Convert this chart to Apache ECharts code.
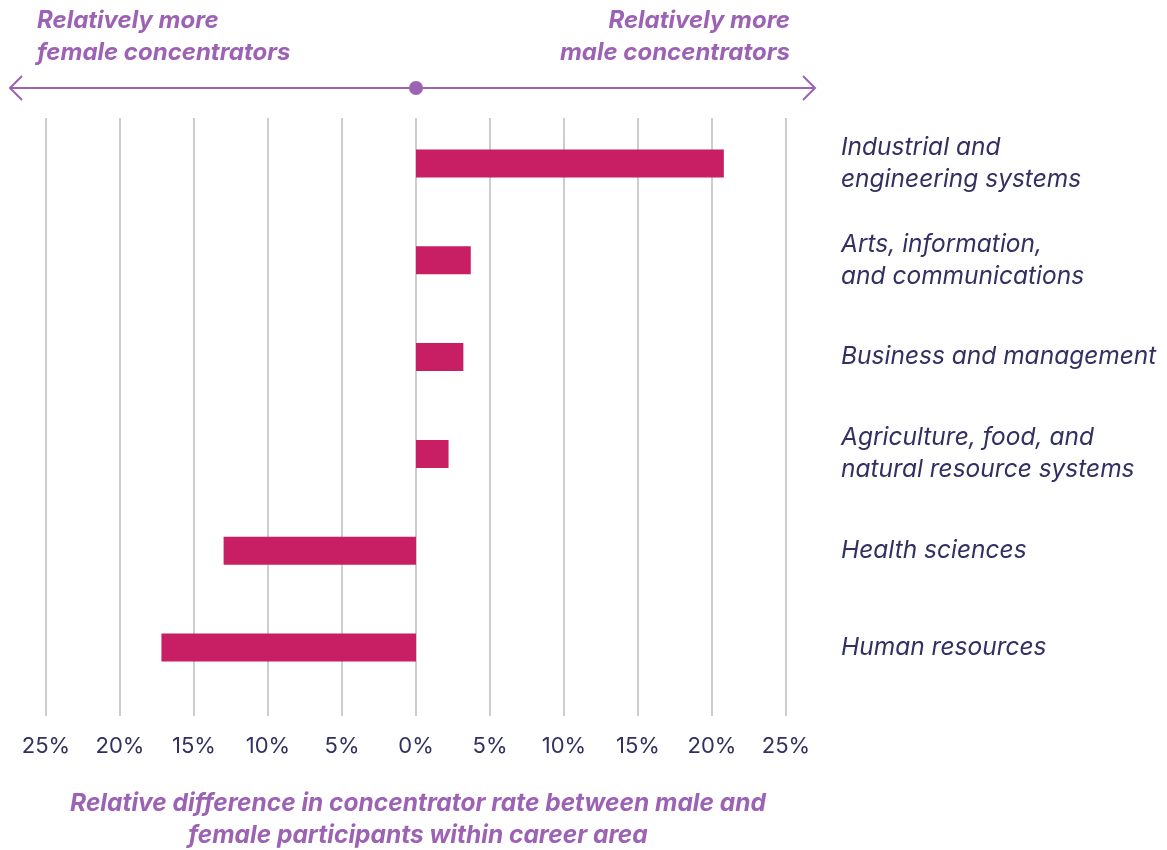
<!DOCTYPE html>
<html>
<head>
<meta charset="utf-8">
<script src="https://cdn.jsdelivr.net/npm/echarts@6/dist/echarts.min.js"></script>
<style>
html,body{margin:0;padding:0;background:#fff;}
#chart{width:1167px;height:850px;}
</style>
</head>
<body>
<div id="chart"></div>
<script>
const categories = [
  "Industrial and\nengineering systems",
  "Arts, information,\nand communications",
  "Business and management",
  "Agriculture, food, and\nnatural resource systems",
  "Health sciences",
  "Human resources"
];
const differences = [20.8, 3.7, 3.2, 2.2, -13.0, -17.2];
const axisMin = -25;
const axisMax = 25;
const axisStep = 5;
const leftNote = "Relatively more\nfemale concentrators";
const rightNote = "Relatively more\nmale concentrators";
const axisTitle = "Relative difference in concentrator rate between male and\nfemale participants within career area";

const FONT = "Inter";
const PURPLE = "#9c62b4";
const NAVY = "#322f62";
const BAR = "#c81e63";

const chart = echarts.init(document.getElementById('chart'));
const noteStyle = { fontFamily: FONT, fontSize: 24, fontWeight: 'bold', fontStyle: 'italic', color: PURPLE, lineHeight: 32 };
const option = {
  animation: false,
  backgroundColor: '#fff',
  textStyle: { fontFamily: FONT },
  title: [
    { text: leftNote, left: 32, top: 0, textStyle: noteStyle },
    { text: rightNote, left: 785, top: 0, textAlign: 'right',
      textStyle: Object.assign({}, noteStyle, { align: 'right' }) },
    { text: axisTitle, left: 413, top: 783, textAlign: 'center',
      textStyle: Object.assign({}, noteStyle, { align: 'center', fontSize: 24.5 }) }
  ],
  grid: [
    { left: 46, right: 381, top: 115, height: 581, containLabel: false },
    { left: 46, right: 381, top: 118, bottom: 134, containLabel: false }
  ],
  xAxis: [
    { type: 'value', gridIndex: 0, min: axisMin, max: axisMax, interval: axisStep, show: false },
    { type: 'value', gridIndex: 1, min: axisMin, max: axisMax, interval: axisStep,
      axisLine: { show: false }, axisTick: { show: false },
      splitLine: { show: true, lineStyle: { color: '#bfc1c1', width: 1.6 } },
      axisLabel: { margin: 19, fontFamily: FONT, fontSize: 22, color: NAVY,
        formatter: v => Math.abs(v) + '%' } }
  ],
  yAxis: [
    { type: 'category', gridIndex: 0, data: categories, inverse: true, position: 'right',
      axisLine: { show: false }, axisTick: { show: false }, splitLine: { show: false },
      axisLabel: { margin: 55, align: 'left', fontFamily: FONT, fontSize: 24.5, fontStyle: 'italic',
        color: NAVY, lineHeight: 32 } },
    { type: 'value', gridIndex: 1, min: 0, max: 1, show: false }
  ],
  series: [
    { type: 'bar', xAxisIndex: 0, yAxisIndex: 0, data: differences, barWidth: 28,
      itemStyle: { color: BAR }, z: 3 }
  ]
};
chart.setOption(option);

// Arrow annotation centred on the zero point of the axis
const zeroX = chart.convertToPixel({ xAxisIndex: 0 }, 0);
const leftEnd = chart.convertToPixel({ xAxisIndex: 0 }, axisMin) - 36;
const rightEnd = chart.convertToPixel({ xAxisIndex: 0 }, axisMax) + 29;
const arrowY = 88;
chart.setOption({
  graphic: [
    { type: 'line', shape: { x1: leftEnd, y1: arrowY, x2: rightEnd, y2: arrowY },
      style: { stroke: PURPLE, lineWidth: 2 } },
    { type: 'polyline', shape: { points: [[leftEnd + 12, arrowY - 12], [leftEnd, arrowY], [leftEnd + 12, arrowY + 12]] },
      style: { stroke: PURPLE, lineWidth: 2, fill: null } },
    { type: 'polyline', shape: { points: [[rightEnd - 12, arrowY - 12], [rightEnd, arrowY], [rightEnd - 12, arrowY + 12]] },
      style: { stroke: PURPLE, lineWidth: 2, fill: null } },
    { type: 'circle', shape: { cx: zeroX, cy: arrowY, r: 7 }, style: { fill: PURPLE } }
  ]
});
</script>
</body>
</html>
